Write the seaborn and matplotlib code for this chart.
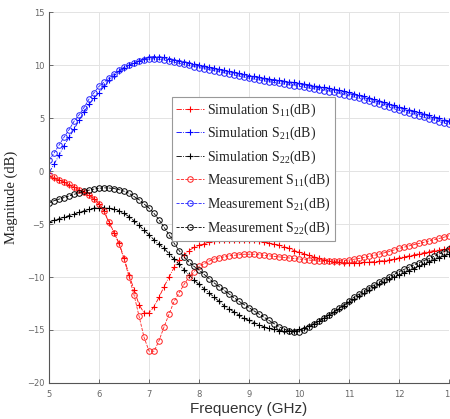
"""
S-parameter comparison, simulation vs measurement, 5-13 GHz.
"""

import numpy as np
import pandas as pd
import matplotlib
matplotlib.use("Agg")
import matplotlib.pyplot as plt
import seaborn as sns

FREQ_GHZ = [round(5.0 + 0.1 * i, 1) for i in range(81)]

SIM_S11 = [
    -0.5, -0.7, -0.85, -1.05, -1.3, -1.5, -1.75, -1.95, -2.25, -2.6,
    -3.1, -3.8, -4.9, -5.8, -6.8, -8.2, -9.8, -11.2, -12.6, -13.4,
    -13.4, -12.8, -11.9, -10.9, -10.0, -9.1, -8.4, -7.9, -7.5, -7.2,
    -7.0, -6.85, -6.7, -6.6, -6.55, -6.5, -6.5, -6.5, -6.5, -6.5,
    -6.52, -6.55, -6.6, -6.7, -6.8, -6.9, -7.0, -7.15, -7.3, -7.5,
    -7.65, -7.8, -7.95, -8.1, -8.25, -8.4, -8.5, -8.55, -8.6, -8.65,
    -8.65, -8.65, -8.65, -8.6, -8.6, -8.55, -8.5, -8.45, -8.4, -8.3,
    -8.2, -8.1, -8.0, -7.9, -7.8, -7.7, -7.6, -7.5, -7.45, -7.4,
    -7.3,
]
SIM_S21 = [
    -0.15, 0.65, 1.5, 2.4, 3.2, 3.95, 4.8, 5.6, 6.3, 6.9,
    7.4, 8.0, 8.6, 9.0, 9.4, 9.7, 10.0, 10.2, 10.4, 10.6,
    10.75, 10.8, 10.78, 10.72, 10.62, 10.52, 10.42, 10.32, 10.22, 10.12,
    10.02, 9.92, 9.82, 9.72, 9.62, 9.52, 9.42, 9.32, 9.22, 9.12,
    9.02, 8.94, 8.86, 8.78, 8.7, 8.63, 8.56, 8.49, 8.42, 8.36,
    8.3, 8.22, 8.14, 8.06, 7.98, 7.9, 7.82, 7.73, 7.64, 7.53,
    7.42, 7.3, 7.18, 7.05, 6.92, 6.78, 6.64, 6.5, 6.35, 6.2,
    6.05, 5.92, 5.79, 5.66, 5.53, 5.4, 5.27, 5.14, 5.0, 4.86,
    4.72,
]
SIM_S22 = [
    -4.8, -4.65, -4.5, -4.35, -4.2, -4.05, -3.9, -3.75, -3.6, -3.5,
    -3.45, -3.45, -3.5, -3.6, -3.75, -4.0, -4.3, -4.7, -5.1, -5.6,
    -6.0, -6.5, -6.9, -7.3, -7.8, -8.3, -8.8, -9.3, -9.8, -10.3,
    -10.7, -11.1, -11.5, -11.9, -12.3, -12.7, -13.0, -13.3, -13.6, -13.9,
    -14.1, -14.3, -14.5, -14.7, -14.85, -14.95, -15.05, -15.1, -15.1, -15.05,
    -14.95, -14.8, -14.6, -14.4, -14.15, -13.9, -13.6, -13.3, -13.0, -12.7,
    -12.4, -12.1, -11.8, -11.5, -11.2, -10.95, -10.7, -10.45, -10.2, -10.0,
    -9.8, -9.6, -9.4, -9.2, -9.0, -8.8, -8.6, -8.4, -8.2, -8.0,
    -7.85,
]
MEAS_S11 = [
    -0.4, -0.6, -0.8, -1.0, -1.25, -1.5, -1.75, -2.0, -2.3, -2.65,
    -3.1, -3.8, -4.8, -5.8, -6.9, -8.3, -10.0, -11.7, -13.7, -15.7,
    -17.0, -17.0, -16.0, -14.7, -13.5, -12.3, -11.5, -10.7, -10.0, -9.5,
    -9.0, -8.75, -8.5, -8.3, -8.2, -8.1, -8.0, -7.95, -7.9, -7.85,
    -7.85, -7.85, -7.9, -7.95, -8.0, -8.05, -8.1, -8.15, -8.2, -8.25,
    -8.3, -8.35, -8.4, -8.45, -8.5, -8.52, -8.52, -8.5, -8.48, -8.45,
    -8.4, -8.32, -8.25, -8.15, -8.05, -7.95, -7.85, -7.72, -7.6, -7.45,
    -7.3, -7.18, -7.06, -6.94, -6.83, -6.72, -6.6, -6.48, -6.36, -6.24,
    -6.1,
]
MEAS_S21 = [
    1.0, 1.7, 2.45, 3.2, 3.9, 4.7, 5.3, 6.0, 6.8, 7.4,
    8.0, 8.4, 8.8, 9.2, 9.5, 9.8, 10.0, 10.2, 10.4, 10.5,
    10.58, 10.6, 10.55, 10.48, 10.38, 10.28, 10.18, 10.07, 9.97, 9.87,
    9.77, 9.67, 9.57, 9.47, 9.37, 9.27, 9.17, 9.07, 8.97, 8.87,
    8.77, 8.68, 8.6, 8.52, 8.44, 8.36, 8.29, 8.21, 8.14, 8.07,
    8.0, 7.92, 7.84, 7.76, 7.68, 7.6, 7.51, 7.42, 7.32, 7.21,
    7.1, 6.98, 6.86, 6.73, 6.6, 6.46, 6.32, 6.18, 6.03, 5.88,
    5.73, 5.59, 5.46, 5.33, 5.2, 5.07, 4.94, 4.81, 4.67, 4.53,
    4.4,
]
MEAS_S22 = [
    -3.0, -2.8, -2.65, -2.5, -2.35, -2.2, -2.05, -1.9, -1.8, -1.7,
    -1.62, -1.58, -1.6, -1.65, -1.75, -1.9, -2.1, -2.4, -2.7, -3.1,
    -3.5, -4.0, -4.6, -5.3, -6.0, -6.8, -7.5, -8.1, -8.6, -9.0,
    -9.35, -9.75, -10.15, -10.55, -10.9, -11.25, -11.6, -11.95, -12.3, -12.6,
    -12.9, -13.2, -13.5, -13.8, -14.1, -14.4, -14.7, -14.9, -15.1, -15.2,
    -15.15, -15.0, -14.75, -14.45, -14.15, -13.85, -13.55, -13.25, -12.95, -12.6,
    -12.25, -11.9, -11.6, -11.3, -11.0, -10.75, -10.5, -10.25, -10.0, -9.75,
    -9.5, -9.28, -9.06, -8.85, -8.65, -8.45, -8.25, -8.05, -7.85, -7.6,
    -7.4,
]

X_TICKS = [5, 6, 7, 8, 9, 10, 11, 12, 13]
Y_TICKS = [-20, -15, -10, -5, 0, 5, 10, 15]

# (label, values, colour, marker, linestyle)
SERIES = [
    ("Simulation S$_{11}$(dB)", SIM_S11, "#ff0000", "+", "-."),
    ("Simulation S$_{21}$(dB)", SIM_S21, "#0000ff", "+", "-."),
    ("Simulation S$_{22}$(dB)", SIM_S22, "#000000", "+", "-."),
    ("Measurement S$_{11}$(dB)", MEAS_S11, "#ff2020", "o", "--"),
    ("Measurement S$_{21}$(dB)", MEAS_S21, "#2020ff", "o", "--"),
    ("Measurement S$_{22}$(dB)", MEAS_S22, "#000000", "o", "--"),
]


def main():
    sns.set_style("white")
    plt.rcParams["mathtext.fontset"] = "custom"
    plt.rcParams["mathtext.rm"] = "Liberation Serif"
    plt.rcParams["mathtext.it"] = "Liberation Serif:italic"

    fig = plt.figure(figsize=(4.5, 4.19), dpi=100)
    ax = fig.add_axes([0.109, 0.086, 0.889, 0.885])

    for label, vals, color, marker, ls in SERIES:
        df = pd.DataFrame({"freq": FREQ_GHZ, "mag": vals})
        # seaborn draws marker edges white by default -> force the series colour
        kw = dict(markeredgecolor=color, markeredgewidth=0.8, markersize=5)
        if marker == "o":
            kw.update(markerfacecolor="none", markersize=4.0, markeredgewidth=0.7)
        sns.lineplot(
            data=df, x="freq", y="mag", ax=ax,
            color=color, marker=marker, linestyle=ls, linewidth=0.6,
            label=label, **kw,
        )

    ax.set_xlim(5, 13)
    ax.set_ylim(-20, 15)
    ax.set_xticks(X_TICKS)
    ax.set_yticks(Y_TICKS)
    ax.grid(True, color="#e3e3e3", linewidth=0.7)
    ax.set_axisbelow(True)
    for side in ("top", "right"):
        ax.spines[side].set_visible(False)
    for side in ("left", "bottom"):
        ax.spines[side].set_color("#555555")
        ax.spines[side].set_linewidth(0.8)
    ax.tick_params(axis="both", direction="in", length=3, width=0.6,
                   labelsize=6, labelcolor="#666666", color="#555555",
                   left=True, bottom=True)
    ax.tick_params(axis="x", pad=5)

    ax.set_xlabel("Frequency (GHz)", family="Liberation Sans", fontsize=11,
                  color="#333333", labelpad=2)
    ax.set_ylabel("Magnitude (dB)", family="Liberation Serif", fontsize=10.5,
                  color="#222222", labelpad=6)

    leg = ax.legend(
        loc="upper left", bbox_to_anchor=(0.3075, 0.771), borderaxespad=0,
        prop={"family": "Liberation Serif", "size": 10},
        handlelength=2.0, handletextpad=0.2, labelspacing=0.45,
        borderpad=0.3, fancybox=False, framealpha=1.0,
    )
    leg.get_frame().set_edgecolor("#999999")
    leg.get_frame().set_linewidth(0.8)
    for txt in leg.get_texts():
        txt.set_color("#222222")

    fig.savefig("out.png", dpi=100)


if __name__ == "__main__":
    main()
